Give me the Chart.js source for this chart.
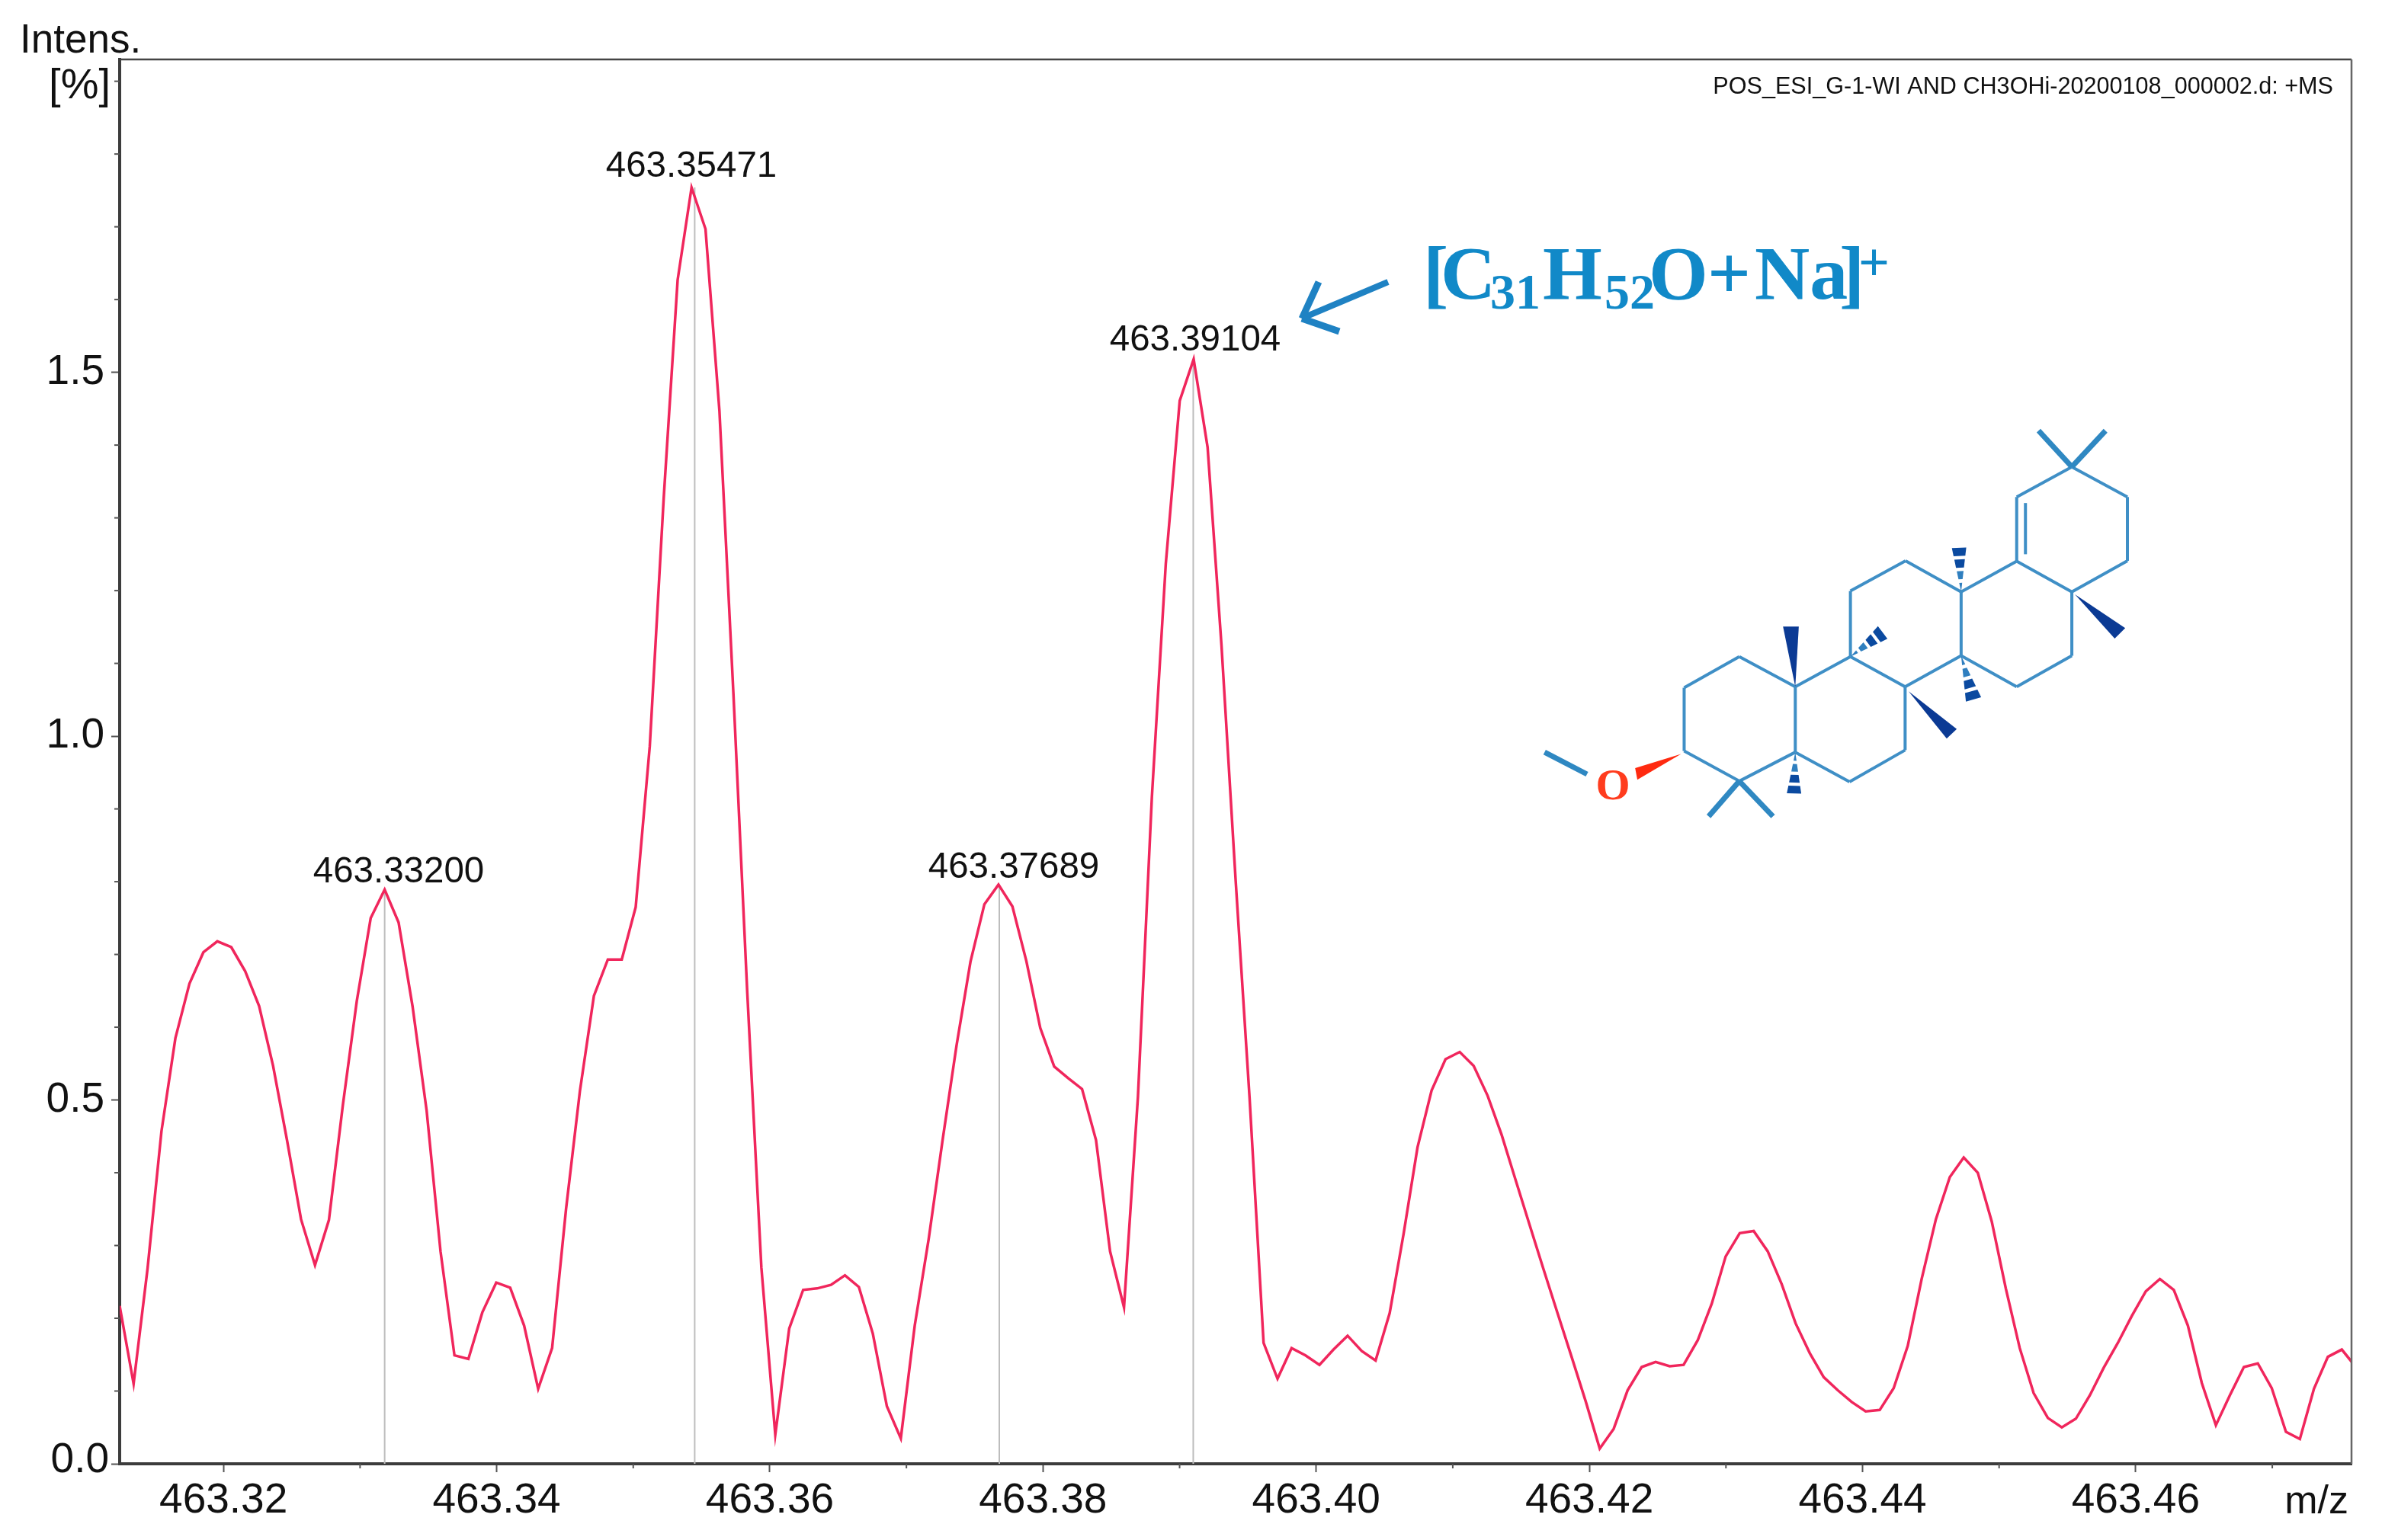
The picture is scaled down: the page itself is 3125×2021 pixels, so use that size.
<!DOCTYPE html>
<html><head><meta charset="utf-8">
<style>html,body{margin:0;padding:0;background:#fff}canvas{display:block}</style>
<script src="https://cdn.jsdelivr.net/npm/chart.js@4/dist/chart.umd.min.js"></script>
</head><body><canvas id="c" width="3125" height="2021"></canvas>
<script>
const mz = [463.31240,463.31342,463.31444,463.31546,463.31648,463.31751,463.31853,463.31955,463.32057,463.32159,
463.32261,463.32363,463.32465,463.32568,463.32670,463.32772,463.32874,463.32976,463.33078,463.33180,
463.33282,463.33384,463.33487,463.33589,463.33691,463.33793,463.33895,463.33997,463.34099,463.34201,
463.34304,463.34406,463.34508,463.34610,463.34712,463.34814,463.34916,463.35018,463.35121,463.35223,
463.35325,463.35427,463.35529,463.35631,463.35733,463.35835,463.35938,463.36040,463.36142,463.36244,
463.36346,463.36448,463.36550,463.36652,463.36754,463.36857,463.36959,463.37061,463.37163,463.37265,
463.37367,463.37469,463.37571,463.37674,463.37776,463.37878,463.37980,463.38082,463.38184,463.38286,
463.38388,463.38491,463.38593,463.38695,463.38797,463.38899,463.39001,463.39103,463.39205,463.39307,
463.39410,463.39512,463.39615,463.39717,463.39820,463.39922,463.40024,463.40127,463.40230,463.40333,
463.40435,463.40538,463.40640,463.40742,463.40845,463.40947,463.41051,463.41153,463.41255,463.41358,
463.41460,463.41563,463.41665,463.41767,463.41870,463.41973,463.42076,463.42178,463.42280,463.42383,
463.42485,463.42588,463.42690,463.42794,463.42896,463.42998,463.43101,463.43203,463.43306,463.43408,
463.43510,463.43614,463.43716,463.43819,463.43921,463.44023,463.44126,463.44228,463.44331,463.44433,
463.44537,463.44639,463.44741,463.44844,463.44946,463.45049,463.45151,463.45253,463.45357,463.45459,
463.45562,463.45664,463.45766,463.45869,463.45971,463.46074,463.46177,463.46279,463.46382,463.46484,
463.46587,463.46689,463.46792,463.46894,463.46996,463.47100,463.47202,463.47305,463.47407,463.47509,
463.47612];
const intensity = [.217,.110,.268,.457,.585,.660,.703,.718,.710,.677,
.629,.547,.445,.336,.273,.335,.493,.636,.750,.789,
.744,.629,.486,.292,.149,.144,.208,.249,.242,.190,
.103,.159,.350,.513,.643,.693,.693,.765,.986,1.327,
1.627,1.754,1.697,1.447,1.060,.647,.270,.040,.186,.239,
.241,.246,.259,.243,.179,.079,.035,.190,.309,.445,
.575,.690,.769,.796,.766,.691,.599,.546,.530,.515,
.445,.292,.215,.504,.916,1.237,1.461,1.518,1.397,1.124,
.803,.504,.166,.117,.159,.149,.136,.157,.176,.155,
.142,.207,.316,.435,.513,.556,.566,.547,.506,.452,
.390,.328,.267,.207,.147,.086,.021,.048,.101,.133,
.140,.134,.136,.170,.220,.285,.317,.320,.292,.247,
.193,.152,.119,.101,.085,.072,.074,.104,.162,.254,
.336,.394,.421,.400,.333,.241,.159,.097,.063,.050,
.062,.094,.132,.166,.203,.237,.254,.239,.190,.111,
.053,.094,.133,.138,.104,.044,.034,.103,.147,.157,
.133];
const stemMz = [463.3318,463.3545,463.3768,463.3910];
const stemTop = [.789,1.754,.796,1.518];
const peakLabels = ['463.33200','463.35471','463.37689','463.39104'];
const xMajor = [463.32,463.34,463.36,463.38,463.40,463.42,463.44,463.46];
const xMajorLabels = ['463.32','463.34','463.36','463.38','463.40','463.42','463.44','463.46'];
const xMinor = [463.33,463.35,463.37,463.39,463.41,463.43,463.45,463.47];
const yMajor = [0,0.5,1,1.5];
const yMajorLabels = ['0.0','0.5','1.0','1.5'];
const yMinor = [.1,.2,.3,.4,.6,.7,.8,.9,1.1,1.2,1.3,1.4,1.6,1.7,1.8,1.9];
const xRange = [463.3124,463.4758];
const yRange = [0,1.93];
const SANS = '"Liberation Sans", Arial, sans-serif';
const SERIF = '"Liberation Serif", serif';
Chart.defaults.font.family = SANS;

function text(ctx,s,x,y,font,color,align,base){
  ctx.font=font;ctx.fillStyle=color;ctx.textAlign=align||'center';ctx.textBaseline=base||'middle';ctx.fillText(s,x,y);
}
function seg(ctx,a,b,w,color){ctx.strokeStyle=color;ctx.lineWidth=w;ctx.lineCap='butt';ctx.beginPath();ctx.moveTo(a[0],a[1]);ctx.lineTo(b[0],b[1]);ctx.stroke();}

function drawMolecule(ctx){
  const P=(x,y)=>[1950+x/1.742,500+y/2.529];
  const A=P(452,1018),B=P(578,915),C=P(706,1015),D=P(706,1232),E=P(578,1328),F=P(452,1228),
    G=P(832,915),H=P(957,1015),I=P(957,1225),J=P(830,1330),K=P(832,697),L=P(958,597),M=P(1085,700),N=P(1085,912),
    O=P(1212,598),Q=P(1338,700),R=P(1338,912),S=P(1212,1015),T=P(1212,385),U=P(1338,285),V=P(1465,385),W=P(1465,597);
  const bonds=[[A,B],[B,C],[C,D],[D,E],[E,F],[F,A],[C,G],[G,H],[H,I],[I,J],[J,D],[G,K],[K,L],[L,M],[M,N],[N,H],
    [M,O],[O,Q],[Q,R],[R,S],[S,N],[O,T],[T,U],[U,V],[V,W],[W,Q],[P(1232,405),P(1232,575)]];
  bonds.forEach(b=>seg(ctx,b[0],b[1],4,'#3f8fc6'));
  [[U,P(1262,165)],[U,P(1415,165)],[E,P(508,1445)],[E,P(655,1445)],[P(133,1232),P(230,1305)]].forEach(b=>seg(ctx,b[0],b[1],7,'#2f88c2'));
  const wedge=(tip,a,b,color)=>{ctx.fillStyle=color;ctx.beginPath();ctx.moveTo(...tip);ctx.lineTo(...a);ctx.lineTo(...b);ctx.closePath();ctx.fill();};
  wedge(C,P(678,815),P(714,815),'#0b3a94');
  wedge(P(965,1030),P(1075,1155),P(1052,1187),'#0b3a94');
  wedge(P(1345,708),P(1460,820),P(1436,855),'#0b3a94');
  wedge(P(445,1238),P(340,1285),P(345,1323),'#ff2a10');
  const dashed=(tip,end,half)=>{
    const n=4;const dx=end[0]-tip[0],dy=end[1]-tip[1],len=Math.hypot(dx,dy),ux=-dy/len,uy=dx/len;
    for(let i=0;i<n;i++){const t0=(i+0.08)/n,t1=(i+0.78)/n;
      const a=[tip[0]+dx*t0,tip[1]+dy*t0],b=[tip[0]+dx*t1,tip[1]+dy*t1];
      ctx.fillStyle=i>1?'#0b4aa0':'#2f7fbf';ctx.beginPath();
      ctx.moveTo(a[0]+ux*half*t0,a[1]+uy*half*t0);ctx.lineTo(b[0]+ux*half*t1,b[1]+uy*half*t1);
      ctx.lineTo(b[0]-ux*half*t1,b[1]-uy*half*t1);ctx.lineTo(a[0]-ux*half*t0,a[1]-uy*half*t0);ctx.closePath();ctx.fill();}
  };
  dashed(G,P(910,830),11);
  dashed(M,P(1080,545),10);
  dashed(N,P(1115,1065),11);
  dashed(D,P(703,1377),10);
  text(ctx,'O',2116,1034,'bold 58px '+SERIF,'#ff3c1e');
}

function drawFormula(ctx){
  const c='#1189c8',big='bold 100px '+SERIF,sub='bold 66px '+SERIF;
  const put=(s,x,y,f)=>text(ctx,s,x,y,f,c,'left','alphabetic');
  put('[',1867,392,big);put('C',1890,392,big);put('31',1955,405,sub);put('H',2024,392,big);
  put('52',2105,405,sub);put('O',2163,392,big);put('+',2240,392,big);put('Na',2302,392,big);
  put(']',2413,392,big);put('+',2438,368,'bold 72px '+SERIF);
  seg(ctx,[1821,370],[1712,416],8,'#1f82c3');
  seg(ctx,[1730,370],[1708,418],9,'#1f82c3');
  seg(ctx,[1708,418],[1757,435],9,'#1f82c3');
}

const overlay={id:'overlay',afterDraw(chart){
  const ctx=chart.ctx,a=chart.chartArea,sx=chart.scales.x,sy=chart.scales.y;
  ctx.save();
  seg(ctx,[a.left,a.top],[a.right,a.top],2.5,'#444');
  seg(ctx,[a.right,a.top],[a.right,a.bottom],2.5,'#666');
  xMinor.forEach(v=>{const p=sx.getPixelForValue(v);seg(ctx,[p,a.bottom],[p,a.bottom+6],2,'#555');});
  yMinor.forEach(v=>{const p=sy.getPixelForValue(v);seg(ctx,[a.left-7,p],[a.left,p],2,'#555');});
  const black='#111',lab='47.5px '+SANS,tk='55px '+SANS;
  text(ctx,peakLabels[0],523,1145,lab,black);
  text(ctx,peakLabels[1],907,219,lab,black);
  text(ctx,peakLabels[2],1330,1139,lab,black);
  text(ctx,peakLabels[3],1568,447,lab,black);
  text(ctx,yMajorLabels[0],143,1917,tk,black,'right');
  text(ctx,'Intens.',26,69,'53px '+SANS,black,'left','alphabetic');
  text(ctx,'[%]',145,114,'56px '+SANS,black,'right');
  text(ctx,'m/z',3081,1972,'52px '+SANS,black,'right');
  text(ctx,'POS_ESI_G-1-WI AND CH3OHi-20200108_000002.d: +MS',3061,115,'30.6px '+SANS,black,'right');
  drawFormula(ctx);
  drawMolecule(ctx);
  ctx.restore();
}};

const datasets=[{data:mz.map((x,i)=>({x,y:intensity[i]})),borderColor:'#f0265c',borderWidth:3.5,pointRadius:0,tension:0,order:1}];
stemMz.forEach((x,i)=>datasets.push({data:[{x,y:0},{x,y:stemTop[i]}],borderColor:'#bdbdbd',borderWidth:2,pointRadius:0,tension:0,order:2}));

new Chart(document.getElementById('c'),{
  type:'line',
  data:{datasets},
  options:{
    responsive:false,animation:false,
    layout:{padding:{top:78,right:40,left:0,bottom:0}},
    plugins:{legend:{display:false},tooltip:{enabled:false},title:{display:false}},
    scales:{
      x:{type:'linear',min:xRange[0],max:xRange[1],
        afterBuildTicks(s){s.ticks=xMajor.map(value=>({value}));},
        afterFit(s){s.height=100;},
        grid:{drawOnChartArea:false,drawTicks:true,tickLength:11,tickColor:'#555',tickWidth:2},
        border:{display:true,color:'#3c3c3c',width:4},
        ticks:{autoSkip:false,maxRotation:0,minRotation:0,padding:5,color:'#111',font:{size:55},callback:(v,i)=>xMajorLabels[i]}},
      y:{type:'linear',min:yRange[0],max:yRange[1],
        afterBuildTicks(s){s.ticks=yMajor.map(value=>({value}));},
        afterFit(s){s.width=157;},
        grid:{drawOnChartArea:false,drawTicks:true,tickLength:11,tickColor:'#555',tickWidth:2},
        border:{display:true,color:'#3c3c3c',width:4},
        ticks:{autoSkip:false,padding:9,color:'#111',font:{size:55},callback:(v,i)=>i===0?'':yMajorLabels[i]}}
    }
  },
  plugins:[overlay]
});
</script></body></html>
